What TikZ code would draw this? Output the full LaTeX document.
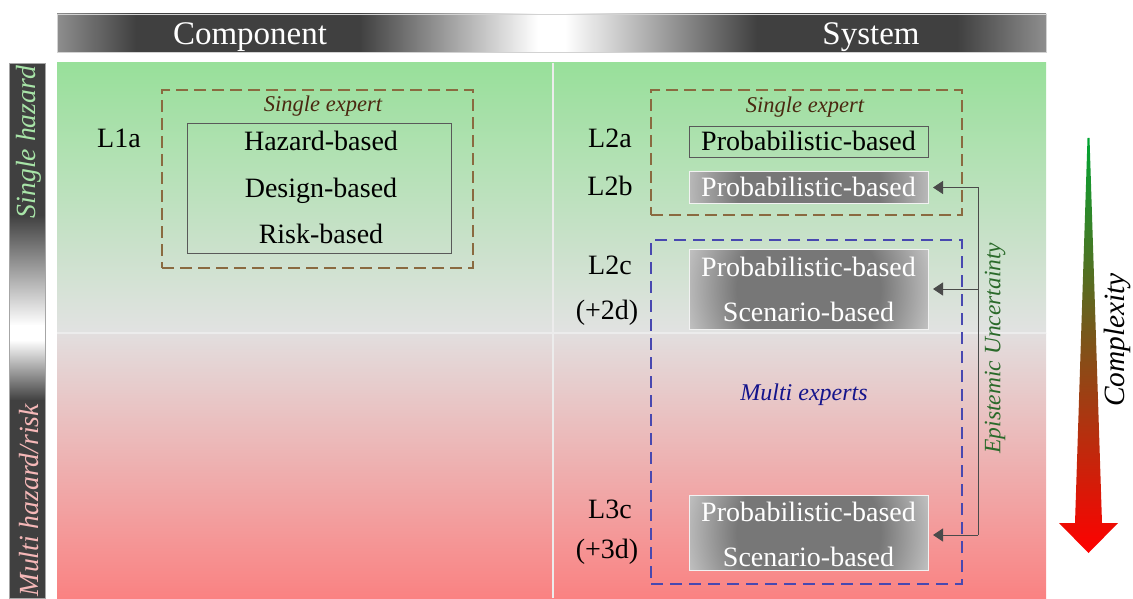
\documentclass[tikz,border=0pt]{standalone}
\usepackage{fontspec}
\setmainfont{Liberation Serif}
\usetikzlibrary{arrows.meta}
\definecolor{hdrD}{HTML}{404040}
\definecolor{hdrL}{HTML}{8E8E8E}
\definecolor{gTop}{HTML}{98E09A}
\definecolor{gMid}{HTML}{E2E2E2}
\definecolor{rMid}{HTML}{E2DEDE}
\definecolor{rBot}{HTML}{FA8282}
\definecolor{brownD}{HTML}{8A6A40}
\definecolor{blueD}{HTML}{4848B0}
\definecolor{expBrown}{HTML}{4A2810}
\definecolor{multiBlue}{HTML}{14148C}
\definecolor{epiGreen}{HTML}{2A6A2A}
\definecolor{arrowc}{HTML}{4A4A4A}
\definecolor{cgreen}{HTML}{00A532}
\definecolor{shGreen}{HTML}{A8E4A8}
\definecolor{mhPink}{HTML}{F5B8B8}
\definecolor{boxDark}{HTML}{777777}
\definecolor{boxLight}{HTML}{C4C4C4}
\pgfdeclarehorizontalshading{hdrsh}{100bp}{color(0bp)=(hdrL); color(25bp)=(hdrL); color(29bp)=(hdrD); color(40.3bp)=(hdrD); color(49.3bp)=(white); color(50.7bp)=(white); color(60.4bp)=(hdrD); color(70.5bp)=(hdrD); color(75bp)=(hdrL); color(100bp)=(hdrL)}
\pgfdeclareradialshading{boxsh}{\pgfpoint{0bp}{0bp}}{color(0bp)=(boxDark); color(14bp)=(boxDark); color(25bp)=(boxLight); color(50bp)=(boxLight)}
\begin{document}
\begin{tikzpicture}[x=1pt,y=-1pt,
  hdrtext/.style={text=white, font=\fontsize{33}{36}\selectfont, inner sep=0, text height=24pt, text depth=2pt},
  lbl/.style={font=\fontsize{28}{32}\selectfont, inner sep=0, text height=20pt, text depth=2pt},
  expert/.style={font=\fontsize{22.5}{26}\selectfont\itshape, text=expBrown, inner sep=0},
  multi/.style={font=\fontsize{24}{28}\selectfont\itshape, text=multiBlue, inner sep=0},
  sidetext/.style={font=\fontsize{27.7}{30}\selectfont\itshape, rotate=90, inner sep=0},
  solidbox/.style={draw=black!65, line width=0.8, inner sep=0, outer sep=0},
  shadebox/.style={draw=white!90!gray, line width=1, inner sep=0, outer sep=0,
    path picture={\shade[shading=boxsh] (path picture bounding box.center) circle (128pt);}},
  brdash/.style={draw=brownD, line width=1.1, dash pattern=on 12pt off 6pt, inner sep=0, outer sep=0},
  bldash/.style={draw=blueD, line width=1.1, dash pattern=on 12pt off 7pt, inner sep=0, outer sep=0},
  conn/.style={draw=arrowc, line width=0.9},
  arrconn/.style={conn, -{Triangle[length=10pt,width=13pt]}, shorten >=5pt}
]
\useasboundingbox (0,0) rectangle (1133,599);
% header bar
\shade[shading=hdrsh, draw=gray!35, line width=0.6] (57,14) rectangle (1046,52);
\node[hdrtext] (hcomp) at (250,34) {Component};
\node[hdrtext] (hsys) at (871,34) {System};
% panel
\shade[top color=gTop, bottom color=gMid] (57,63) rectangle (1046,333.5);
\shade[top color=rMid, bottom color=rBot] (57,333) rectangle (1046,598);
\draw[white!85!gray, line width=1.2] (553,63) -- (553,598);
\draw[white!85!gray, line width=1.2] (57,333) -- (1046,333);
% left bar
\fill[hdrD] (9,63) rectangle (45,215.5);
\shade[top color=hdrD, bottom color=white] (9,215) rectangle (45,325.5);
\fill[white] (9,325) rectangle (45,340.5);
\shade[top color=white, bottom color=hdrD] (9,340) rectangle (45,400.5);
\fill[hdrD] (9,400) rectangle (45,598);
\draw[gray!70, line width=0.6] (9,63) rectangle (45,598);
\node[sidetext, text=shGreen] (sh) at (29,142) {Single hazard};
\node[sidetext, text=mhPink] (mh) at (29,500) {Multi hazard/risk};
% component
\node[brdash, minimum width=311, minimum height=178] (c1dash) at (317.5,179) {};
\node[solidbox, minimum width=264, minimum height=130] (c1box) at (319,188) {};
\node[expert] (c1exp) at (323,106) {Single expert};
\node[lbl] (haz) at (321,142) {Hazard-based};
\node[lbl] (des) at (321,188) {Design-based};
\node[lbl] (risk) at (321,234) {Risk-based};
\node[lbl] (l1a) at (119,139) {L1a};
% system
\node[brdash, minimum width=311, minimum height=125] (s1dash) at (806.5,152.5) {};
\node[expert] (s1exp) at (805,107) {Single expert};
\node[bldash, minimum width=311, minimum height=344] (s2dash) at (806.5,412) {};
\node[multi] (mexp) at (804,395) {Multi experts};
\node[solidbox, minimum width=239, minimum height=31] (b2a) at (808.5,141.5) {};
\node[lbl] (t2a) at (b2a) {Probabilistic-based};
\node[shadebox, minimum width=239, minimum height=31] (b2b) at (808.5,187.5) {};
\node[lbl, text=white] (t2b) at (b2b) {Probabilistic-based};
\node[shadebox, minimum width=239, minimum height=80] (b2c) at (808.5,289) {};
\node[lbl, text=white] (t2c1) at (808.5,267) {Probabilistic-based};
\node[lbl, text=white] (t2c2) at (808.5,312) {Scenario-based};
\node[shadebox, minimum width=239, minimum height=75] (b3c) at (808.5,532.5) {};
\node[lbl, text=white] (t3c1) at (808.5,512) {Probabilistic-based};
\node[lbl, text=white] (t3c2) at (808.5,557) {Scenario-based};
\node[lbl] (l2a) at (610,139) {L2a};
\node[lbl] (l2b) at (610,187) {L2b};
\node[lbl] (l2c) at (610,265) {L2c};
\node[lbl] (l2d) at (607,310) {(+2d)};
\node[lbl] (l3c) at (610,509) {L3c};
\node[lbl] (l3d) at (607,549) {(+3d)};
% epistemic uncertainty connectors
\coordinate (jx) at (978,0);
\coordinate (j1) at (b2b.east -| jx);
\coordinate (j2) at (b2c.east -| jx);
\coordinate (j3) at (978,535);
\draw[conn] (j1) -- (j3);
\draw[arrconn] (j1) -- (b2b.east);
\draw[arrconn] (j2) -- (b2c.east);
\draw[arrconn] (j3) -- (j3 -| b3c.east);
\node[sidetext, font=\fontsize{23.5}{26}\selectfont\itshape, text=epiGreen] (epi) at (995,348) {Epistemic Uncertainty};
% complexity arrow
\shade[top color=cgreen, bottom color=red] (1087.5,138) -- (1089.5,138) -- (1102,523) -- (1118,523) -- (1088.5,553) -- (1059,523) -- (1075,523) -- cycle;
\node[sidetext, font=\fontsize{29.4}{32}\selectfont\itshape, text=black] (cplx) at (1117,340) {Complexity};
\end{tikzpicture}
\end{document}
